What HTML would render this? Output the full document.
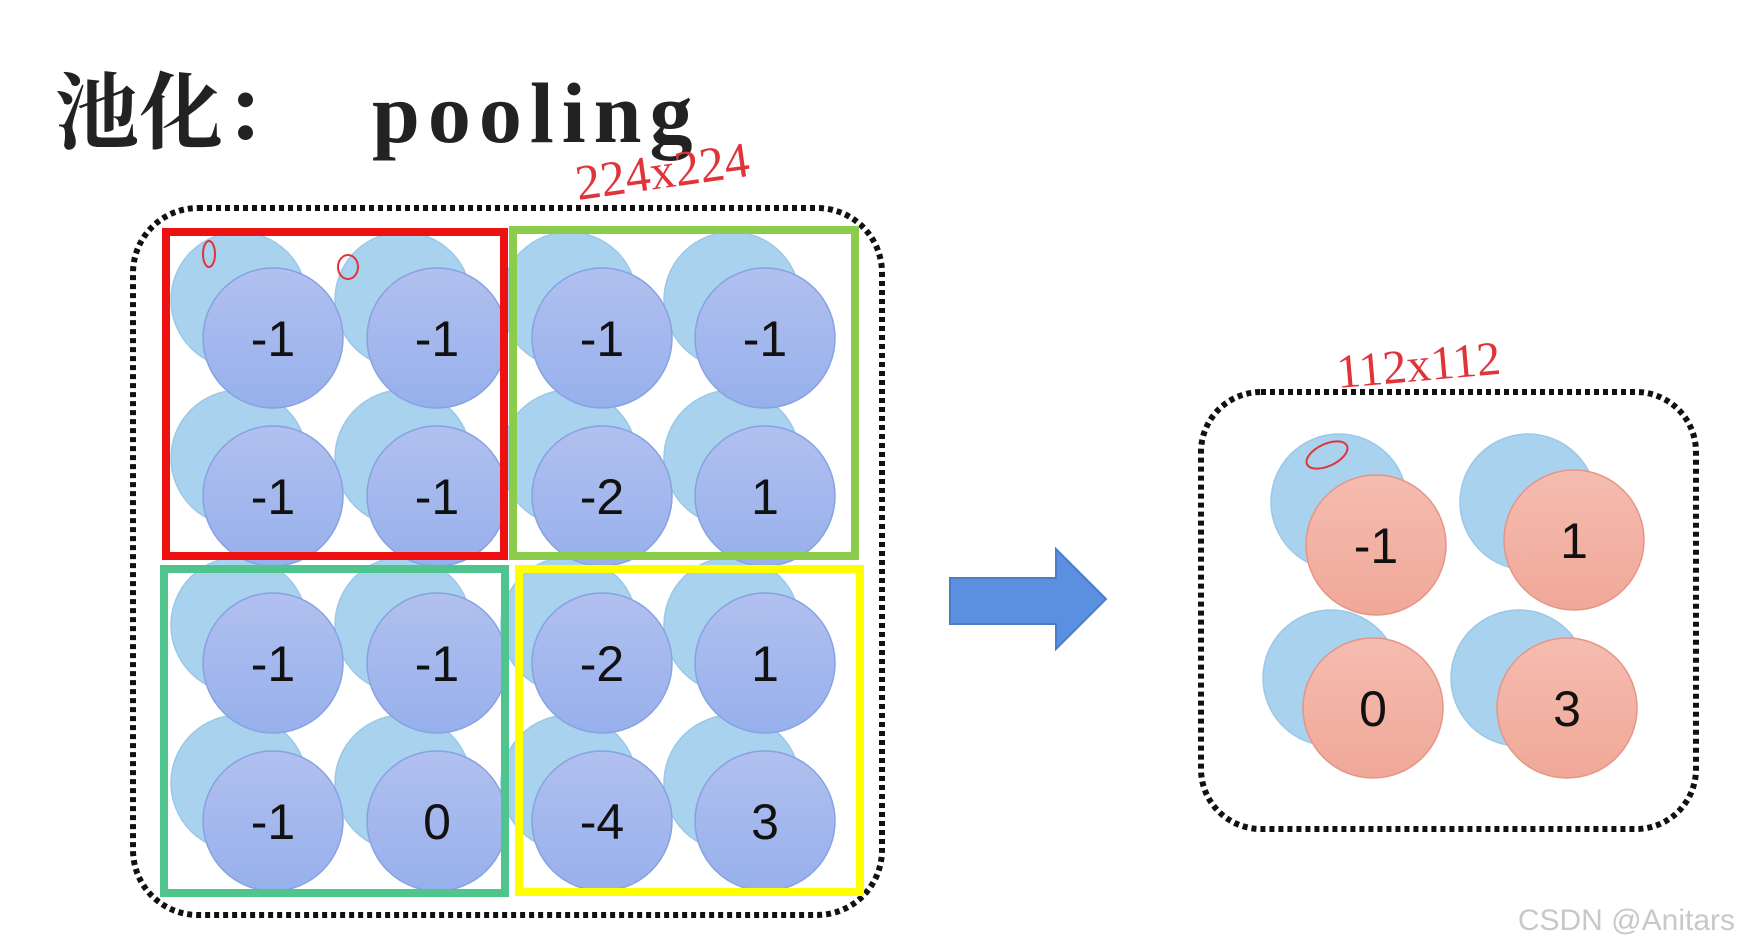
<!DOCTYPE html>
<html><head><meta charset="utf-8"><style>
html,body{margin:0;padding:0;background:#fff;width:1739px;height:950px;overflow:hidden}
</style></head><body>
<svg width="1739" height="950" viewBox="0 0 1739 950" xmlns="http://www.w3.org/2000/svg">
<defs>
<linearGradient id="fb" x1="0" y1="0" x2="0" y2="1"><stop offset="0" stop-color="#b1c0ef"/><stop offset="1" stop-color="#97b0ec"/></linearGradient>
<linearGradient id="pk" x1="0" y1="0" x2="0" y2="1"><stop offset="0" stop-color="#f5bcb0"/><stop offset="1" stop-color="#f0a898"/></linearGradient>
</defs>
<text x="55" y="142" font-family="'Liberation Serif','Noto Serif CJK SC',serif" font-weight="bold" font-size="84" fill="#222">池化：</text>
<text x="372" y="142" font-family="'Liberation Serif',serif" font-weight="bold" font-size="86" letter-spacing="8" fill="#222">pooling</text>

<rect x="133" y="208" width="749" height="707" rx="65" fill="none" stroke="#111" stroke-width="6" stroke-dasharray="5 4"/>

<g stroke="#9cc8e8" stroke-width="1.5" fill="#a8d2ee">
<circle cx="239" cy="300" r="68"/><circle cx="403" cy="300" r="68"/><circle cx="569" cy="300" r="68"/><circle cx="732" cy="300" r="68"/>
<circle cx="239" cy="458" r="68"/><circle cx="403" cy="458" r="68"/><circle cx="569" cy="458" r="68"/><circle cx="732" cy="458" r="68"/>
<circle cx="239" cy="625" r="68"/><circle cx="403" cy="625" r="68"/><circle cx="569" cy="625" r="68"/><circle cx="732" cy="625" r="68"/>
<circle cx="239" cy="783" r="68"/><circle cx="403" cy="783" r="68"/><circle cx="569" cy="783" r="68"/><circle cx="732" cy="783" r="68"/>
</g>
<g stroke="#86a2e2" stroke-width="1.5" fill="url(#fb)">
<circle cx="273" cy="338" r="70"/><circle cx="437" cy="338" r="70"/><circle cx="602" cy="338" r="70"/><circle cx="765" cy="338" r="70"/>
<circle cx="273" cy="496" r="70"/><circle cx="437" cy="496" r="70"/><circle cx="602" cy="496" r="70"/><circle cx="765" cy="496" r="70"/>
<circle cx="273" cy="663" r="70"/><circle cx="437" cy="663" r="70"/><circle cx="602" cy="663" r="70"/><circle cx="765" cy="663" r="70"/>
<circle cx="273" cy="821" r="70"/><circle cx="437" cy="821" r="70"/><circle cx="602" cy="821" r="70"/><circle cx="765" cy="821" r="70"/>
</g>
<g font-family="'Liberation Sans',sans-serif" font-size="50" fill="#111" text-anchor="middle">
<text x="273" y="356">-1</text><text x="437" y="356">-1</text><text x="602" y="356">-1</text><text x="765" y="356">-1</text>
<text x="273" y="514">-1</text><text x="437" y="514">-1</text><text x="602" y="514">-2</text><text x="765" y="514">1</text>
<text x="273" y="681">-1</text><text x="437" y="681">-1</text><text x="602" y="681">-2</text><text x="765" y="681">1</text>
<text x="273" y="839">-1</text><text x="437" y="839">0</text><text x="602" y="839">-4</text><text x="765" y="839">3</text>
</g>
<rect x="166" y="232" width="338" height="324" fill="none" stroke="#ee1111" stroke-width="8"/>
<rect x="513" y="230" width="342" height="326" fill="none" stroke="#8ccc4c" stroke-width="8"/>
<rect x="164" y="569" width="341" height="324" fill="none" stroke="#4fc48c" stroke-width="8"/>
<rect x="519" y="569" width="341" height="323" fill="none" stroke="#ffff00" stroke-width="8"/>

<polygon points="950,578 1056,578 1056,549 1106,599 1056,649 1056,624 950,624" fill="#5b8fdf" stroke="#4a7ccc" stroke-width="2"/>

<rect x="1201" y="392" width="495" height="437" rx="60" fill="none" stroke="#111" stroke-width="6" stroke-dasharray="5 4"/>
<g stroke="#9cc8e8" stroke-width="1.5" fill="#a8d2ee">
<circle cx="1339" cy="502" r="68"/><circle cx="1528" cy="502" r="68"/><circle cx="1331" cy="678" r="68"/><circle cx="1519" cy="678" r="68"/>
</g>
<g stroke="#e59587" stroke-width="1.5" fill="url(#pk)">
<circle cx="1376" cy="545" r="70"/><circle cx="1574" cy="540" r="70"/><circle cx="1373" cy="708" r="70"/><circle cx="1567" cy="708" r="70"/>
</g>
<g font-family="'Liberation Sans',sans-serif" font-size="50" fill="#111" text-anchor="middle">
<text x="1376" y="563">-1</text><text x="1574" y="558">1</text><text x="1373" y="726">0</text><text x="1567" y="726">3</text>
</g>

<g fill="none" stroke="#e0333a" stroke-width="2">
<ellipse cx="209" cy="254" rx="6" ry="13"/>
<ellipse cx="348" cy="267" rx="10" ry="12"/>
<ellipse cx="1327" cy="455" rx="22" ry="11" transform="rotate(-25 1327 455)"/>
</g>
<text x="578" y="200" font-family="'Liberation Serif',serif" font-size="50" fill="#e0333a" transform="rotate(-8 578 200)">224x224</text>
<text x="1338" y="388" font-family="'Liberation Serif',serif" font-size="48" fill="#e0333a" transform="rotate(-5 1338 388)">112x112</text>
<text x="1735" y="930" text-anchor="end" font-family="'Liberation Sans',sans-serif" font-size="30" fill="#c8c8c8">CSDN @Anitars</text>
</svg>
</body></html>
